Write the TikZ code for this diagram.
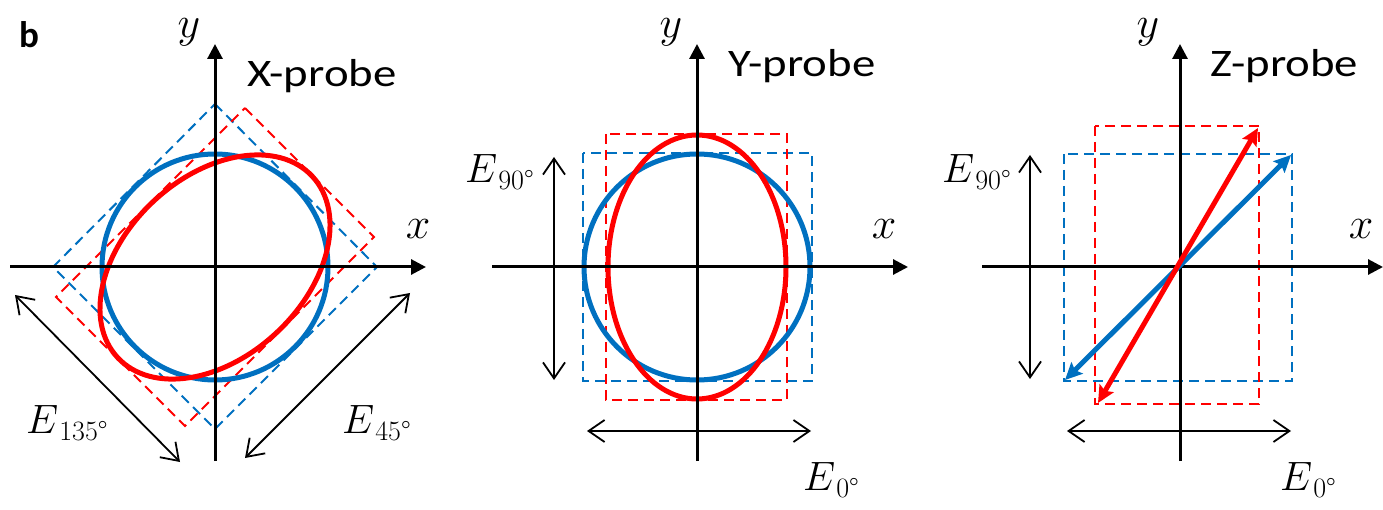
\RequirePackage{fix-cm}
\documentclass[tikz,border=0pt]{standalone}
\usepackage{fontspec}
\usepackage{graphicx}
\newfontfamily\calib{Carlito}
\usetikzlibrary{arrows.meta}
\definecolor{pblue}{RGB}{0,112,192}
\definecolor{pred}{RGB}{255,0,0}
\newcommand{\Efield}[1]{{\fontsize{41}{49}\selectfont$E$}\kern1pt\raisebox{-7pt}{\fontsize{28}{30}\selectfont #1°}}
\tikzset{
  axisline/.style={line width=3pt, -{Triangle[length=15pt,width=15pt]}},
  fieldarr/.style={line width=1.8pt, {Straight Barb[length=16pt,width=22pt]}-{Straight Barb[length=16pt,width=22pt]}},
  curveline/.style={line width=5pt},
  dashbox/.style={line width=2pt, dash pattern=on 10pt off 6pt},
  polarr/.style={line width=5pt, {Stealth[length=17pt,width=16pt,inset=3pt]}-{Stealth[length=17pt,width=16pt,inset=3pt]}},
  elabel/.style={inner sep=0pt, anchor=base west},
  axlabel/.style={inner sep=0pt, font=\fontsize{44}{52}\selectfont},
  probelabel/.style={inner sep=0pt, anchor=base west, font=\calib\fontsize{39}{46}\selectfont},
}
\begin{document}
\begin{tikzpicture}[x=1pt,y=-1pt]
\useasboundingbox (0,0) rectangle (1383,510);

% ---------- Panel 1: X-probe ----------
\node[inner sep=0pt, anchor=base west, font=\calib\bfseries\fontsize{37}{44}\selectfont] (lb) at (19,48) {b};
\coordinate (o1) at (215,267);
\coordinate (x1s) at (10,267);   \coordinate (x1e) at (426,267);
\coordinate (y1s) at (215,461);  \coordinate (y1e) at (215,44);
% dashed squares
\coordinate (bd1) at (215,104); \coordinate (bd2) at (377,267);
\coordinate (bd3) at (215,429); \coordinate (bd4) at (53,267);
\draw[dashbox, pblue] (bd1) -- (bd2) -- (bd3) -- (bd4) -- cycle;
\coordinate (rd1) at (245,108); \coordinate (rd2) at (374,237);
\coordinate (rd3) at (185,426); \coordinate (rd4) at (56,297);
\draw[dashbox, pred] (rd1) -- (rd2) -- (rd3) -- (rd4) -- cycle;
% curves
\draw[curveline, pblue] (o1) circle[radius=113];
\draw[curveline, pred, rotate around={43:(o1)}] (o1) ellipse[x radius=133, y radius=90];
% axes
\draw[axisline] (x1s) -- (x1e);
\draw[axisline] (y1s) -- (y1e);
\node[axlabel] (lx1) at (418,229) {$x$};
\node[axlabel] (ly1) at (189,32) {$y$};
\node[probelabel] (t1) at (247,87) {\scalebox{1.2}[1]{X-probe}};
% field arrows
\coordinate (a135s) at (15,295);  \coordinate (a135e) at (180,462);
\coordinate (a45s) at (410,293);  \coordinate (a45e) at (245,458);
\draw[fieldarr] (a135s) -- (a135e);
\draw[fieldarr] (a45s) -- (a45e);
\node[elabel] (e135) at (26,433) {\Efield{135}};
\node[elabel] (e45) at (342,433) {\Efield{45}};

% ---------- Panel 2: Y-probe ----------
\coordinate (o2) at (697,267);
\coordinate (x2s) at (492,267);  \coordinate (x2e) at (908,267);
\coordinate (y2s) at (697,461);  \coordinate (y2e) at (697,44);
\draw[dashbox, pblue] (583,153) rectangle (812,381);
\draw[dashbox, pred] (606,134) rectangle (787,400);
\draw[curveline, pblue] (o2) circle[radius=113];
\draw[curveline, pred] (o2) ellipse[x radius=89, y radius=132];
\draw[axisline] (x2s) -- (x2e);
\draw[axisline] (y2s) -- (y2e);
\node[axlabel] (lx2) at (884,229) {$x$};
\node[axlabel] (ly2) at (671,32) {$y$};
\node[probelabel] (t2) at (728,77) {\scalebox{1.2}[1]{Y-probe}};
\coordinate (v2s) at (554,157); \coordinate (v2e) at (554,380);
\coordinate (h2s) at (587,431); \coordinate (h2e) at (811,431);
\draw[fieldarr] (v2s) -- (v2e);
\draw[fieldarr] (h2s) -- (h2e);
\node[elabel] (e90a) at (465,183) {\Efield{90}};
\node[elabel] (e0a) at (803,490) {\Efield{0}};

% ---------- Panel 3: Z-probe ----------
\coordinate (o3) at (1180,267);
\coordinate (x3s) at (982,267);  \coordinate (x3e) at (1383,267);
\coordinate (y3s) at (1180,461); \coordinate (y3e) at (1180,44);
\draw[dashbox, pblue] (1064,154) rectangle (1292,381);
\draw[dashbox, pred] (1095,126) rectangle (1259,404);
\draw[axisline] (x3s) -- (x3e);
\draw[axisline] (y3s) -- (y3e);
\coordinate (bp1) at (1065,380); \coordinate (bp2) at (1291,155);
\coordinate (rp1) at (1098,403); \coordinate (rp2) at (1258,128);
\draw[polarr, pblue] (bp1) -- (bp2);
\draw[polarr, pred] (rp1) -- (rp2);
\node[axlabel] (lx3) at (1361,229) {$x$};
\node[axlabel] (ly3) at (1148,32) {$y$};
\node[probelabel] (t3) at (1210,77) {\scalebox{1.2}[1]{Z-probe}};
\coordinate (v3s) at (1030,155); \coordinate (v3e) at (1030,379);
\coordinate (h3s) at (1067,431); \coordinate (h3e) at (1291,431);
\draw[fieldarr] (v3s) -- (v3e);
\draw[fieldarr] (h3s) -- (h3e);
\node[elabel] (e90b) at (942,183) {\Efield{90}};
\node[elabel] (e0b) at (1280,490) {\Efield{0}};
\end{tikzpicture}
\end{document}
